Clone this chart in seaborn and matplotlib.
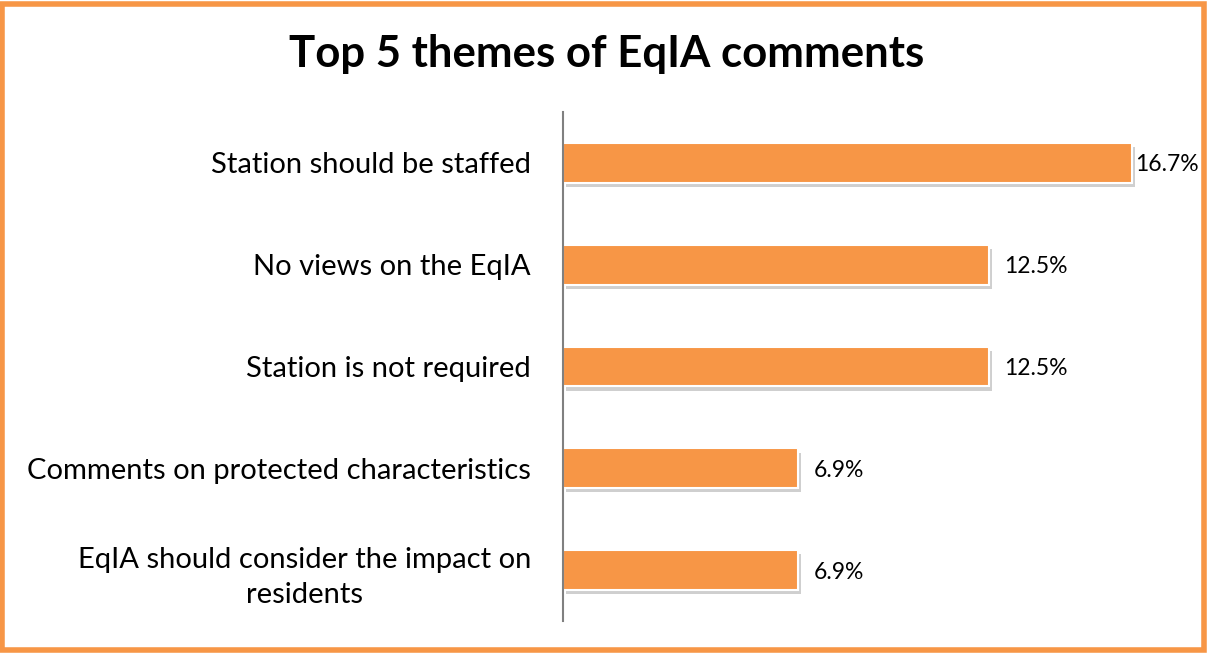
import pandas as pd
import seaborn as sns
from matplotlib import pyplot as plt
from matplotlib import patheffects as pe
from matplotlib.patches import Rectangle

themes = ['Station should be staffed',
          'No views on the EqIA',
          'Station is not required',
          'Comments on protected characteristics',
          'EqIA should consider the impact on\nresidents']
shares = [16.7, 12.5, 12.5, 6.9, 6.9]
labels = ['16.7%', '12.5%', '12.5%', '6.9%', '6.9%']

ORANGE = '#F79646'

df = pd.DataFrame({'theme': themes, 'share': shares})

sns.set_style('white')
plt.rcParams['font.family'] = ['Lato', 'DejaVu Sans']
plt.rcParams['text.color'] = 'black'
plt.rcParams['ytick.color'] = 'black'

fig = plt.figure(figsize=(12.09, 6.53), dpi=100)
ax = fig.add_axes([0.4657, 0.049, 0.51, 0.7795])

sns.barplot(data=df, x='share', y='theme', color=ORANGE, width=0.39,
            edgecolor='white', linewidth=1.5, saturation=1, ax=ax)

for bar in ax.patches:
    bar.set_path_effects([pe.SimplePatchShadow(offset=(2, -3), shadow_rgbFace='#888888', alpha=0.4),
                          pe.Normal()])

# Excel squeezes the biggest label against its bar so it fits the frame
for i, txt in enumerate(labels):
    off = 2 if shares[i] == max(shares) else 11
    ax.annotate(txt, (shares[i], i), xytext=(off, -1.5), textcoords='offset points',
                va='center', ha='left', fontsize=16.5, color='black')

ax.set_xlim(0, 18.1)
ax.set_ylim(4.5, -0.5)
ax.set_xlabel('')
ax.set_ylabel('')
ax.set_xticks([])
ax.tick_params(axis='y', length=0, pad=23, labelsize=21, labelcolor='black')
for t in ax.get_yticklabels():
    t.set_multialignment('center')
    t.set_linespacing(1.45)
for s in ['top', 'right', 'bottom']:
    ax.spines[s].set_visible(False)
ax.spines['left'].set_color('#808080')
ax.spines['left'].set_linewidth(1.5)

fig.text(0.502, 0.918, 'Top 5 themes of EqIA comments', ha='center', va='center',
         fontsize=31.5, fontweight='bold', color='black')

fig.patches.append(Rectangle((0.002, 0.004), 0.994, 0.99, transform=fig.transFigure,
                             fill=False, edgecolor=ORANGE, linewidth=4))

fig.savefig('out.png', dpi=100)
plt.close()
